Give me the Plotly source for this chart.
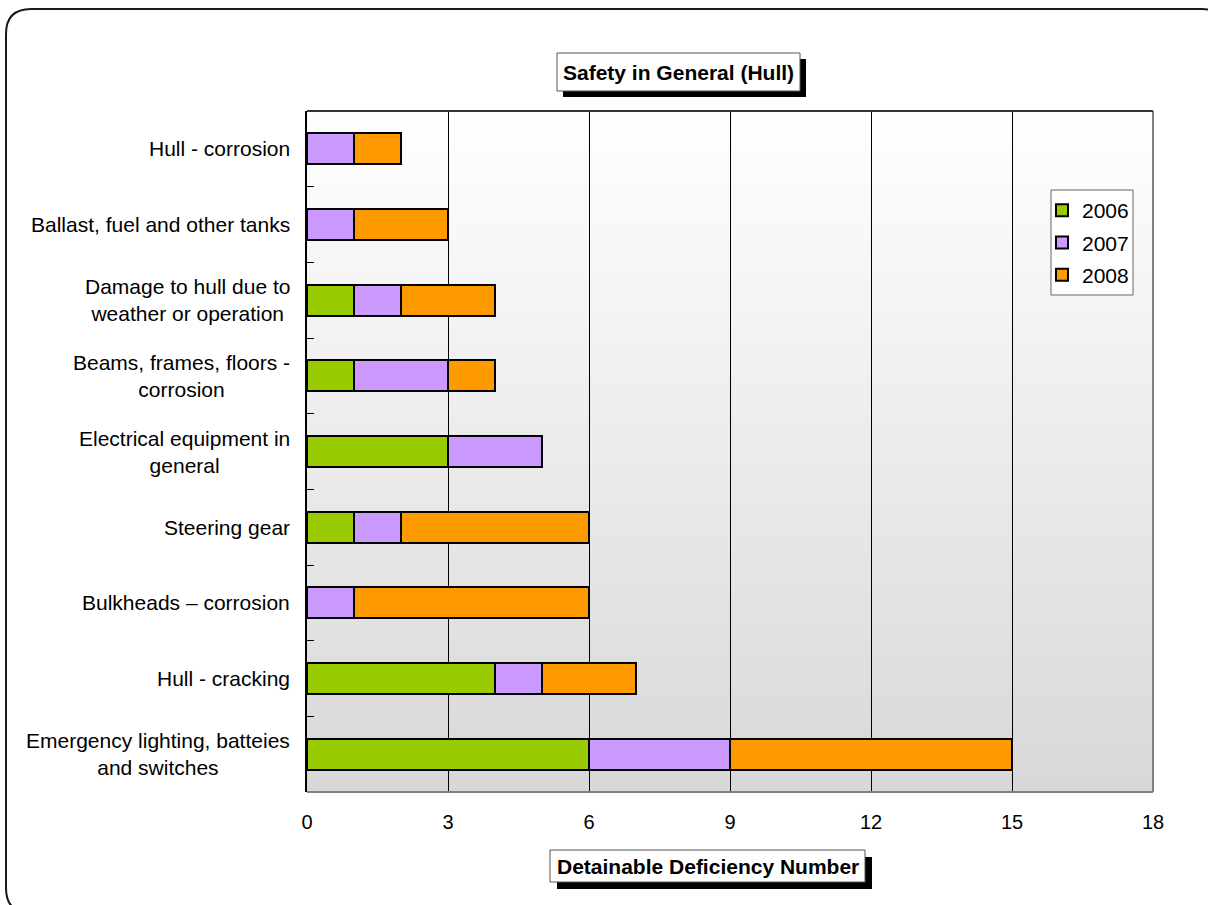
import plotly.graph_objects as go

# ---- data -------------------------------------------------------------
categories = [
    "Hull - corrosion",
    "Ballast, fuel and other tanks",
    "Damage to hull due to<br>weather or operation",
    "Beams, frames, floors -<br>corrosion",
    "Electrical equipment in<br>general",
    "Steering gear",
    "Bulkheads \u2013 corrosion",
    "Hull - cracking",
    "Emergency lighting, batteies<br>and switches",
]
years = ["2006", "2007", "2008"]
v2006 = [0, 0, 1, 1, 3, 1, 0, 4, 6]
v2007 = [1, 1, 1, 2, 2, 1, 1, 1, 3]
v2008 = [1, 2, 2, 1, 0, 4, 5, 2, 6]
x_ticks = [0, 3, 6, 9, 12, 15, 18]

chart_title = "Safety in General (Hull)"
x_title = "Detainable Deficiency Number"

# ---- styling ----------------------------------------------------------
W, H = 1208, 905
ML, MR, MT, MB = 307, 55, 111, 113
PW, PH = W - ML - MR, H - MT - MB
FONT = "Arial, Liberation Sans, sans-serif"
year_colors = ["#99cc00", "#cc99ff", "#ff9900"]


def px(x):
    """Pixel column -> paper x."""
    return (x - ML) / PW


def py(y):
    """Pixel row -> paper y."""
    return (H - MB - y) / PH


fig = go.Figure()
for yr, vals, col in zip(years, [v2006, v2007, v2008], year_colors):
    fig.add_trace(go.Bar(
        y=categories, x=vals, name=yr, orientation="h",
        marker=dict(color=col, line=dict(color="black", width=2)),
        legendgroup=yr,
    ))

shapes = []

# vertical gradient behind the plot area (white at top, light grey at bottom)
N = 120
for i in range(N):
    t = i / N
    g = round(216 + (255 - 216) * t)
    shapes.append(dict(
        type="rect", xref="paper", yref="paper", layer="below",
        x0=0, x1=1, y0=t, y1=min(1, (i + 1.6) / N),
        fillcolor=f"rgb({g},{g},{g})", line=dict(width=0),
    ))

# plot-area frame: grey on right/bottom, dark on top
shapes.append(dict(type="line", xref="paper", yref="paper", x0=1, x1=1, y0=0, y1=1,
                   line=dict(color="#808080", width=2), layer="above"))
shapes.append(dict(type="line", xref="paper", yref="paper", x0=0, x1=1, y0=0, y1=0,
                   line=dict(color="#808080", width=2), layer="above"))
shapes.append(dict(type="line", xref="paper", yref="paper", x0=0, x1=1, y0=1, y1=1,
                   line=dict(color="#333333", width=2), layer="above"))


def boxed(x0, y0, x1, y1, off):
    # drop shadow then white box
    shapes.append(dict(type="rect", xref="paper", yref="paper", layer="above",
                       x0=px(x0 + off), x1=px(x1 + off), y0=py(y1 + off), y1=py(y0 + off),
                       fillcolor="black", line=dict(width=0)))
    shapes.append(dict(type="rect", xref="paper", yref="paper", layer="above",
                       x0=px(x0), x1=px(x1), y0=py(y1), y1=py(y0),
                       fillcolor="white", line=dict(color="#555555", width=1)))


boxed(557, 53, 800, 91, 6)
boxed(550, 850, 865, 882, 7)

# legend frame
shapes.append(dict(type="rect", xref="paper", yref="paper", layer="above",
                   x0=px(1051), x1=px(1133), y0=py(295), y1=py(190),
                   fillcolor="white", line=dict(color="#666666", width=1)))

# rounded outer border
r = 25
L, T, R, B = 6, 9, 1227, 913
path = (
    f"M {px(L)},{py(T + r)} Q {px(L)},{py(T)} {px(L + r)},{py(T)} "
    f"L {px(R - r)},{py(T)} Q {px(R)},{py(T)} {px(R)},{py(T + r)} "
    f"L {px(R)},{py(B - r)} Q {px(R)},{py(B)} {px(R - r)},{py(B)} "
    f"L {px(L + r)},{py(B)} Q {px(L)},{py(B)} {px(L)},{py(B - r)} Z"
)
shapes.append(dict(type="path", xref="paper", yref="paper", path=path,
                   line=dict(color="#1a1a1a", width=2), layer="above"))

annotations = []
# category labels, centred lines, right edge next to the axis
for c in categories:
    annotations.append(dict(
        x=px(292), y=c, xref="paper", yref="y", text=c, showarrow=False,
        xanchor="right", yanchor="middle", align="center",
        font=dict(family=FONT, size=21, color="black"),
    ))
annotations.append(dict(x=px(678.5), y=py(72), xref="paper", yref="paper",
                        text=f"<b>{chart_title}</b>", showarrow=False,
                        xanchor="center", yanchor="middle",
                        font=dict(family=FONT, size=21, color="black")))
annotations.append(dict(x=px(707.5), y=py(866), xref="paper", yref="paper",
                        text=f"<b>{x_title}</b>", showarrow=False,
                        xanchor="center", yanchor="middle",
                        font=dict(family=FONT, size=21, color="black")))

fig.update_layout(
    width=W, height=H,
    margin=dict(l=ML, r=MR, t=MT, b=MB, pad=0),
    paper_bgcolor="white",
    plot_bgcolor="rgba(0,0,0,0)",
    barmode="stack",
    bargap=0.59,
    showlegend=True,
    legend=dict(
        x=px(1042), y=py(190), xanchor="left", yanchor="top",
        bgcolor="rgba(0,0,0,0)", borderwidth=0,
        font=dict(family=FONT, size=21, color="black"),
        traceorder="grouped", tracegroupgap=2, itemwidth=30,
    ),
    xaxis=dict(
        range=[0, 18], tickvals=x_ticks, ticktext=[str(v) for v in x_ticks],
        showgrid=True, gridcolor="black", gridwidth=1, zeroline=False,
        ticks="", showline=False,
        tickfont=dict(family=FONT, size=20, color="black"),
        ticklabelstandoff=16,
    ),
    yaxis=dict(
        type="category", autorange="reversed",
        showticklabels=False, ticks="inside", tickson="boundaries",
        ticklen=7, tickcolor="black", tickwidth=1,
        showline=True, linecolor="black", linewidth=2,
        showgrid=False, zeroline=False,
    ),
    shapes=shapes,
    annotations=annotations,
)

fig.write_html("out.html")
